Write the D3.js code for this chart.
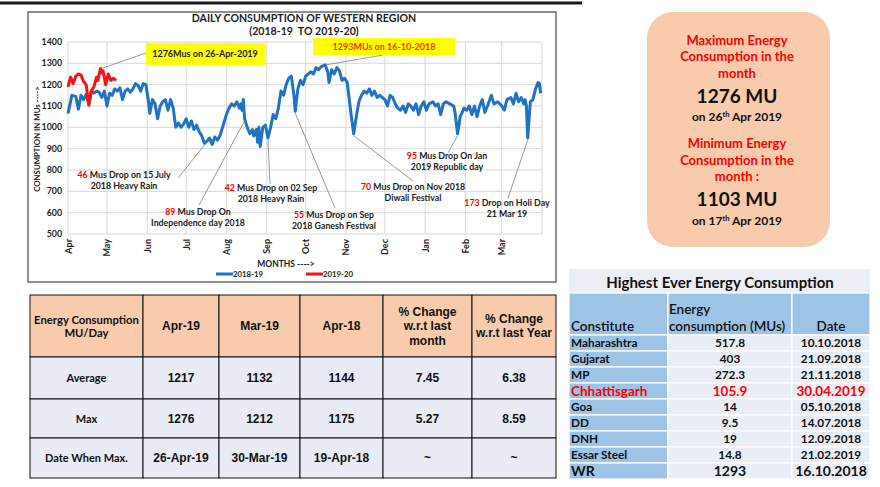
<!DOCTYPE html>
<html>
<head>
<meta charset="utf-8">
<script src="https://d3js.org/d3.v7.min.js"></script>
<style>
body{margin:0;background:#fff}
svg{display:block}
</style>
</head>
<body>
<script>
// 2018-19 daily consumption (MU)
var blueDates=["2018-04-01","2018-04-04","2018-04-07","2018-04-09","2018-04-11","2018-04-13","2018-04-15","2018-04-17","2018-04-19","2018-04-21","2018-04-23","2018-04-25","2018-04-27","2018-04-29",
"2018-05-01","2018-05-03","2018-05-05","2018-05-07","2018-05-09","2018-05-11","2018-05-13","2018-05-15","2018-05-17","2018-05-19","2018-05-21","2018-05-23","2018-05-25","2018-05-27","2018-05-29","2018-05-31",
"2018-06-02","2018-06-03","2018-06-05","2018-06-07","2018-06-09","2018-06-11","2018-06-13","2018-06-15","2018-06-17","2018-06-19","2018-06-21","2018-06-23","2018-06-25","2018-06-27","2018-06-29",
"2018-07-01","2018-07-03","2018-07-05","2018-07-07","2018-07-09","2018-07-11","2018-07-13","2018-07-15","2018-07-17","2018-07-19","2018-07-21","2018-07-23","2018-07-25","2018-07-27","2018-07-29",
"2018-08-01","2018-08-03","2018-08-05","2018-08-07","2018-08-09","2018-08-11","2018-08-12","2018-08-13","2018-08-14","2018-08-15","2018-08-17","2018-08-19","2018-08-21","2018-08-22","2018-08-24","2018-08-25","2018-08-26","2018-08-27","2018-08-29","2018-08-31",
"2018-09-02","2018-09-04","2018-09-06","2018-09-08","2018-09-10","2018-09-12","2018-09-14","2018-09-16","2018-09-18","2018-09-20","2018-09-22","2018-09-23","2018-09-25","2018-09-27","2018-09-29",
"2018-10-01","2018-10-03","2018-10-05","2018-10-07","2018-10-09","2018-10-11","2018-10-13","2018-10-16","2018-10-18","2018-10-19","2018-10-21","2018-10-23","2018-10-25","2018-10-27","2018-10-29","2018-10-31",
"2018-11-02","2018-11-03","2018-11-05","2018-11-07","2018-11-09","2018-11-11","2018-11-13","2018-11-15","2018-11-17","2018-11-19","2018-11-21","2018-11-23","2018-11-25","2018-11-27","2018-11-29",
"2018-12-01","2018-12-03","2018-12-05","2018-12-07","2018-12-09","2018-12-11","2018-12-13","2018-12-15","2018-12-17","2018-12-19","2018-12-21","2018-12-23","2018-12-25","2018-12-27","2018-12-29","2018-12-31",
"2019-01-02","2019-01-04","2019-01-07","2019-01-09","2019-01-11","2019-01-13","2019-01-15","2019-01-17","2019-01-20","2019-01-23","2019-01-24","2019-01-26","2019-01-28","2019-01-31",
"2019-02-02","2019-02-04","2019-02-06","2019-02-08","2019-02-10","2019-02-12","2019-02-14","2019-02-16","2019-02-18","2019-02-21","2019-02-23","2019-02-26",
"2019-03-01","2019-03-03","2019-03-05","2019-03-08","2019-03-10","2019-03-12","2019-03-14","2019-03-16","2019-03-18","2019-03-19","2019-03-20","2019-03-21","2019-03-23","2019-03-25","2019-03-27","2019-03-29","2019-03-30","2019-03-31"];
var blueValues=[1065,1150,1145,1085,1150,1130,1155,1110,1170,1160,1170,1165,1140,1170,
1100,1160,1150,1180,1170,1185,1130,1170,1180,1165,1180,1205,1195,1170,1205,1200,
1120,1065,1130,1110,1040,1100,1120,1130,1080,1130,1090,1000,1020,1000,1015,
1040,1000,1030,990,1010,980,960,925,935,950,920,955,940,960,1000,
1060,1090,1110,1100,1120,1090,1110,1080,1130,1040,1000,970,990,960,990,930,1000,910,1000,1010,
950,1000,1060,1040,1090,1170,1150,1200,1230,1240,1150,1075,1180,1220,1200,
1240,1250,1260,1250,1280,1270,1285,1293,1260,1210,1270,1250,1280,1265,1220,1230,
1210,1160,1060,970,1050,1120,1150,1170,1160,1180,1150,1170,1140,1150,1140,
1130,1100,1150,1140,1110,1090,1080,1100,1070,1110,1100,1080,1110,1060,1100,1120,
1080,1110,1120,1100,1110,1060,1110,1120,1110,1100,1070,970,1050,1090,
1080,1100,1060,1100,1050,1100,1130,1070,1100,1150,1110,1120,
1100,1080,1130,1140,1110,1160,1120,1140,1110,1130,1100,950,1120,1130,1180,1210,1205,1160];

// 2019-20 daily consumption (MU)
var redDates=["2019-04-01","2019-04-03","2019-04-05","2019-04-07","2019-04-09","2019-04-11","2019-04-13","2019-04-15","2019-04-16","2019-04-17","2019-04-19","2019-04-21","2019-04-23","2019-04-24","2019-04-26","2019-04-27","2019-04-28","2019-04-30","2019-05-02","2019-05-04","2019-05-06","2019-05-08"];
var redValues=[1190,1235,1205,1240,1250,1245,1215,1200,1150,1103,1170,1190,1235,1220,1276,1255,1265,1200,1250,1220,1230,1220];

var yTicks=[500,600,700,800,900,1000,1100,1200,1300,1400];
var monthLabels=["Apr","May","Jun","Jul","Aug","Sep","Oct","Nov","Dec","Jan","Feb","Mar"];
var seriesNames=["2018-19","2019-20"];

// drop notes: red number, rest of first line, second line, date pointed at
var noteNums=["46","89","42","55","70","95","173"];
var noteLine1=[" Mus Drop on 15 July"," Mus Drop On"," Mus Drop on 02 Sep"," Mus Drop on Sep"," Mus Drop on Nov 2018"," Mus Drop On Jan"," Drop on Holi Day"];
var noteLine2=["2018 Heavy Rain","Independence day 2018","2018 Heavy Rain","2018 Ganesh Festival","Diwali Festival","2019 Republic day","21 Mar 19"];
var noteDates=["2018-07-15","2018-08-15","2018-09-02","2018-09-23","2018-11-07","2019-01-26","2019-03-21"];

var peakLabels=["1276Mus on 26-Apr-2019","1293MUs on 16-10-2018"];

// summary table
var sumHead=[["Energy Consumption","MU/Day"],["Apr-19"],["Mar-19"],["Apr-18"],["% Change","w.r.t last","month"],["% Change","w.r.t last Year"]];
var sumRows=["Average","Max","Date When Max."];
var sumApr19=["1217","1276","26-Apr-19"];
var sumMar19=["1132","1212","30-Mar-19"];
var sumApr18=["1144","1175","19-Apr-18"];
var sumChgMonth=["7.45","5.27","~"];
var sumChgYear=["6.38","8.59","~"];

// highest ever table
var hiNames=["Maharashtra","Gujarat","MP","Chhattisgarh","Goa","DD","DNH","Essar Steel","WR"];
var hiValues=["517.8","403","272.3","105.9","14","9.5","19","14.8","1293"];
var hiDates=["10.10.2018","21.09.2018","21.11.2018","30.04.2019","05.10.2018","14.07.2018","12.09.2018","21.02.2019","16.10.2018"];

var parse=d3.timeParse("%Y-%m-%d");
var CAL="Lato, 'Open Sans', sans-serif";
var ARI="'Liberation Sans', Arial, sans-serif";

var svg=d3.select("body").append("svg").attr("width",880).attr("height",487);
svg.append("rect").attr("width",880).attr("height",487).attr("fill","#fff");

// slide rule at the very top
svg.append("line").attr("x1",0).attr("x2",582).attr("y1",3).attr("y2",3).attr("stroke","#1a1a1a").attr("stroke-width",3);

// chart frame
svg.append("rect").attr("x",28).attr("y",12).attr("width",528).attr("height",270)
  .attr("fill","#fff").attr("stroke","#555").attr("stroke-width",1.3);

var x=d3.scaleTime().domain([parse("2018-04-01"),parse("2019-04-01")]).range([68,542]);
var y=d3.scaleLinear().domain([500,1400]).range([234,42]);

var monthStarts=d3.timeMonth.range(parse("2018-04-01"),parse("2019-04-02"));

var grid=svg.append("g");
grid.selectAll(".h").data(yTicks).enter().append("line")
  .attr("x1",68).attr("x2",542).attr("y1",d=>y(d)).attr("y2",d=>y(d))
  .attr("stroke","#d9d9d9").attr("stroke-width",1);
grid.selectAll(".v").data(monthStarts).enter().append("line")
  .attr("x1",d=>x(d)).attr("x2",d=>x(d)).attr("y1",y(1400)).attr("y2",y(500))
  .attr("stroke","#d9d9d9").attr("stroke-width",1);

// y axis labels
svg.append("g").selectAll("text").data(yTicks).enter().append("text")
  .attr("x",62).attr("y",d=>y(d)+3).attr("text-anchor","end")
  .attr("font-family",CAL).attr("font-weight","bold").attr("font-size",8.8).attr("fill","#222")
  .text(d=>d);

// x month labels
svg.append("g").selectAll("text").data(monthStarts.slice(0,12)).enter().append("text")
  .attr("transform",(d,i)=>"translate("+(x(d)+3.5)+",239) rotate(-90)")
  .attr("text-anchor","end")
  .attr("font-family",CAL).attr("font-weight","bold").attr("font-size",9).attr("fill","#222")
  .text((d,i)=>monthLabels[i]);

// title
svg.append("text").attr("x",304).attr("y",22).attr("text-anchor","middle")
  .attr("font-family",CAL).attr("font-weight","bold").attr("font-size",10.6).attr("fill","#222")
  .text("DAILY CONSUMPTION OF WESTERN REGION");
svg.append("text").attr("x",304).attr("y",35).attr("text-anchor","middle")
  .attr("font-family",CAL).attr("font-weight","bold").attr("font-size",10.6).attr("fill","#222")
  .attr("xml:space","preserve")
  .text("(2018-19  TO 2019-20)");

// axis titles
svg.append("text").attr("transform","translate(40,139) rotate(-90)").attr("text-anchor","middle")
  .attr("font-family",CAL).attr("font-weight","bold").attr("font-size",7.8).attr("fill","#222")
  .text("CONSUMPTION IN MUs ---->");
svg.append("text").attr("x",286).attr("y",267).attr("text-anchor","middle")
  .attr("font-family",CAL).attr("font-weight","bold").attr("font-size",8.5).attr("fill","#222")
  .text("MONTHS ---->");

// lines
var line=d3.line().x(d=>x(d.d)).y(d=>y(d.v)).curve(d3.curveLinear);
var blue=blueDates.map((s,i)=>({d:parse(s),v:blueValues[i]}));
var red=redDates.map((s,i)=>({d:d3.timeYear.offset(parse(s),-1),v:redValues[i]}));
svg.append("path").datum(blue).attr("d",line).attr("fill","none")
  .attr("stroke","#1f73c2").attr("stroke-width",3).attr("stroke-linejoin","round");
svg.append("path").datum(red).attr("d",line).attr("fill","none")
  .attr("stroke","#ff1010").attr("stroke-width",3).attr("stroke-linejoin","round");

// legend
var lg=svg.append("g").attr("font-family",CAL).attr("font-weight","bold").attr("font-size",7.8).attr("fill","#222");
lg.append("line").attr("x1",216).attr("x2",233).attr("y1",274).attr("y2",274).attr("stroke","#1f73c2").attr("stroke-width",3);
lg.append("text").attr("x",233).attr("y",277).text(seriesNames[0]);
lg.append("line").attr("x1",306).attr("x2",323).attr("y1",274).attr("y2",274).attr("stroke","#ff1010").attr("stroke-width",3);
lg.append("text").attr("x",323).attr("y",277).text(seriesNames[1]);

// peak labels
var lead="#808080";
svg.append("line").attr("x1",146).attr("y1",53).attr("x2",x(parse("2018-04-26"))+1).attr("y2",y(1276)).attr("stroke",lead).attr("stroke-width",0.8);
svg.append("rect").attr("x",146).attr("y",43).attr("width",119).attr("height",22).attr("fill","#ffff00");
svg.append("text").attr("x",205).attr("y",57).attr("text-anchor","middle")
  .attr("font-family",CAL).attr("font-weight","bold").attr("font-size",9).attr("fill","#222").text(peakLabels[0]);
svg.append("line").attr("x1",383).attr("y1",55).attr("x2",x(parse("2018-10-16"))+1).attr("y2",y(1293)).attr("stroke",lead).attr("stroke-width",0.8);
svg.append("rect").attr("x",313).attr("y",38).attr("width",142).attr("height",17).attr("fill","#ffff00");
svg.append("text").attr("x",384).attr("y",50).attr("text-anchor","middle")
  .attr("font-family",CAL).attr("font-weight","bold").attr("font-size",9).attr("fill","#ff3300").text(peakLabels[1]);

// drop notes: text centre, first baseline, leader start
var noteAt=[[124,178,178,178],[198,215,199,205],[271,191,270,184],[334,218,335,208],[413,190,413,181],[447,159,448,153],[507,206,508,198]];
var nt=svg.append("g");
noteNums.forEach(function(n,i){
  var a=noteAt[i];
  var nd=parse(noteDates[i]);
  var bi=blueDates.indexOf(noteDates[i]);
  nt.append("line").attr("x1",a[2]).attr("y1",a[3]).attr("x2",x(nd)).attr("y2",y(blueValues[bi])+2)
    .attr("stroke",lead).attr("stroke-width",0.8);
  var t=nt.append("text").attr("x",a[0]).attr("y",a[1]).attr("text-anchor","middle")
    .attr("font-family",CAL).attr("font-weight","bold").attr("font-size",8.8).attr("fill","#222");
  t.append("tspan").attr("fill","#ff0000").text(n);
  t.append("tspan").text(noteLine1[i]);
  nt.append("text").attr("x",a[0]).attr("y",a[1]+11).attr("text-anchor","middle")
    .attr("font-family",CAL).attr("font-weight","bold").attr("font-size",8.8).attr("fill","#222")
    .text(noteLine2[i]);
});

// right summary panel
svg.append("rect").attr("x",647).attr("y",12).attr("width",183).attr("height",235).attr("rx",26)
  .attr("fill","#f8cbad");
var pn=svg.append("g").attr("font-family",CAL).attr("font-weight","bold").attr("text-anchor","middle");
function ptxt(yy,txt,sz,col){return pn.append("text").attr("x",737).attr("y",yy).attr("font-size",sz).attr("fill",col).text(txt);}
ptxt(45,"Maximum Energy",13,"#ff0000");
ptxt(61,"Consumption in the",13,"#ff0000");
ptxt(78,"month",13,"#ff0000");
ptxt(103,"1276 MU",19,"#111");
function dateLine(yy,day,rest){
  var t=pn.append("text").attr("x",737).attr("y",yy).attr("font-size",12).attr("fill","#111");
  t.append("tspan").text("on "+day);
  t.append("tspan").attr("font-size",7.5).attr("dy",-4).text("th");
  t.append("tspan").attr("dy",4).text(" "+rest);
}
dateLine(121,"26","Apr 2019");
ptxt(148,"Minimum Energy",13,"#ff0000");
ptxt(165,"Consumption in the",13,"#ff0000");
ptxt(181,"month :",13,"#ff0000");
ptxt(206,"1103 MU",19,"#111");
dateLine(225,"17","Apr 2019");

// summary table
var cx=[30,143,219,300,383,472,556];
var ry=[295,357,399,438,478];
var tb=svg.append("g");
for(var r=0;r<4;r++){
  for(var c=0;c<6;c++){
    tb.append("rect").attr("x",cx[c]).attr("y",ry[r]).attr("width",cx[c+1]-cx[c]).attr("height",ry[r+1]-ry[r])
      .attr("fill",r==0?"#f8cbad":"#e9ebf5").attr("stroke","#111").attr("stroke-width",1);
  }
}
sumHead.forEach(function(lines,c){
  var mid=(cx[c]+cx[c+1])/2, cy=(ry[0]+ry[1])/2;
  var lh=c==0?13:14.5;
  lines.forEach(function(l,k){
    tb.append("text").attr("x",mid).attr("y",cy+4+(k-(lines.length-1)/2)*lh).attr("text-anchor","middle")
      .attr("font-family",c==0?CAL:ARI).attr("font-weight","bold").attr("font-size",c==0?11.3:12).attr("fill","#111").text(l);
  });
});
var cols=[sumRows,sumApr19,sumMar19,sumApr18,sumChgMonth,sumChgYear];
cols.forEach(function(col,c){
  col.forEach(function(v,r){
    var mid=(cx[c]+cx[c+1])/2, cy=(ry[r+1]+ry[r+2])/2;
    tb.append("text").attr("x",mid).attr("y",cy+4).attr("text-anchor","middle")
      .attr("font-family",c==0?CAL:ARI).attr("font-weight","bold").attr("font-size",c==0?11:12).attr("fill","#111").text(v);
  });
});

// highest ever table
var hx=[569,668,792,870];
var hy0=293, hy1=335, rh=16;
var ht=svg.append("g");
ht.append("rect").attr("x",569).attr("y",269).attr("width",301).attr("height",24).attr("fill","#eceef5");
ht.append("text").attr("x",720).attr("y",288).attr("text-anchor","middle")
  .attr("font-family",CAL).attr("font-weight","bold").attr("font-size",15).attr("fill","#111")
  .text("Highest Ever Energy Consumption");
for(var c2=0;c2<3;c2++){
  ht.append("rect").attr("x",hx[c2]).attr("y",hy0).attr("width",hx[c2+1]-hx[c2]).attr("height",hy1-hy0)
    .attr("fill","#9dc3e6").attr("stroke","#fff").attr("stroke-width",1.2);
}
ht.append("text").attr("x",571).attr("y",331).attr("font-family",CAL).attr("font-size",13.5).attr("font-weight","600").attr("fill","#111").text("Constitute");
ht.append("text").attr("x",669).attr("y",314).attr("font-family",CAL).attr("font-size",13.5).attr("font-weight","600").attr("fill","#111").text("Energy");
ht.append("text").attr("x",669).attr("y",331).attr("font-family",CAL).attr("font-size",13.5).attr("font-weight","600").attr("fill","#111").text("consumption (MUs)");
ht.append("text").attr("x",831).attr("y",331).attr("text-anchor","middle").attr("font-family",CAL).attr("font-size",13.5).attr("font-weight","600").attr("fill","#111").text("Date");
hiNames.forEach(function(n,i){
  var top=hy1+i*rh;
  var col=n=="Chhattisgarh"?"#ff0000":"#111";
  var fs=n=="Chhattisgarh"?13.5:(n=="WR"?14:11.8);
  ht.append("rect").attr("x",hx[0]).attr("y",top).attr("width",hx[1]-hx[0]).attr("height",rh).attr("fill","#9dc3e6").attr("stroke","#fff").attr("stroke-width",1.2);
  ht.append("rect").attr("x",hx[1]).attr("y",top).attr("width",hx[2]-hx[1]).attr("height",rh).attr("fill","#e9edf5").attr("stroke","#fff").attr("stroke-width",1.2);
  ht.append("rect").attr("x",hx[2]).attr("y",top).attr("width",hx[3]-hx[2]).attr("height",rh).attr("fill","#e9edf5").attr("stroke","#fff").attr("stroke-width",1.2);
  var by=top+rh/2+fs*0.36;
  ht.append("text").attr("x",571).attr("y",by).attr("font-family",CAL).attr("font-weight","bold").attr("font-size",fs).attr("fill",col).text(n);
  ht.append("text").attr("x",730).attr("y",by).attr("text-anchor","middle").attr("font-family",CAL).attr("font-weight","bold").attr("font-size",fs).attr("fill",col).text(hiValues[i]);
  ht.append("text").attr("x",831).attr("y",by).attr("text-anchor","middle").attr("font-family",CAL).attr("font-weight","bold").attr("font-size",fs).attr("fill",col).text(hiDates[i]);
});
</script>
</body>
</html>
